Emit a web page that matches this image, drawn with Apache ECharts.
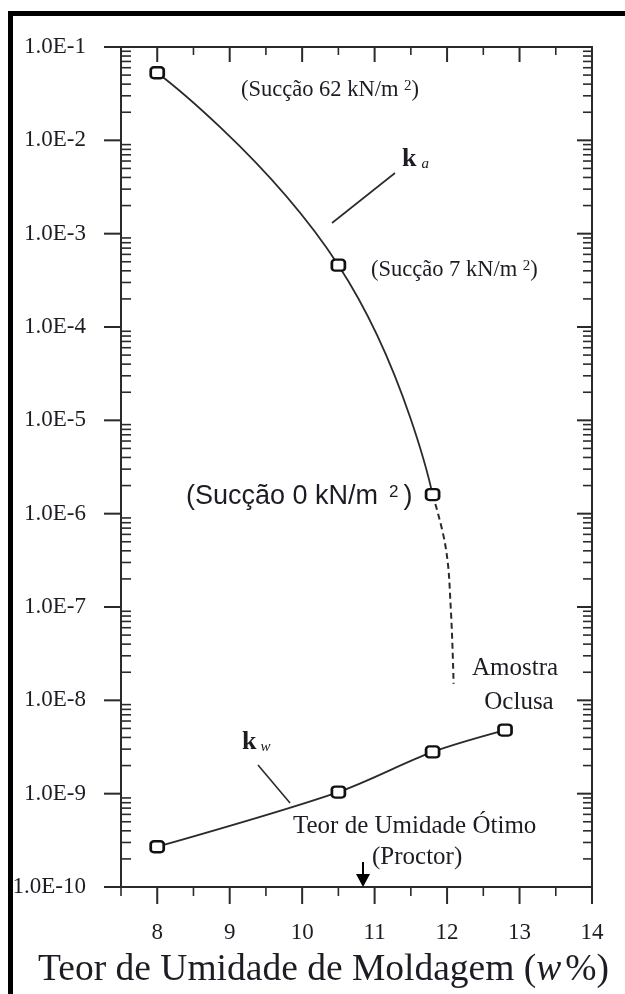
<!DOCTYPE html>
<html><head><meta charset="utf-8">
<script src="https://cdn.jsdelivr.net/npm/echarts@6/dist/echarts.min.js"></script>
<style>html,body{margin:0;padding:0;background:#fff}#c{width:625px;height:994px}</style>
</head><body><div id="c"></div>
<script>
// ---- data ----
const ksMeasured = [[8, 5.3e-2], [10.5, 4.6e-4], [11.8, 1.6e-6]];
const ksExtrapolated = [[11.8, 1.6e-6], [11.98, 4.4e-7], [12.05, 1.0e-7], [12.09, 1.5e-8]];
const kwMeasured = [[8, 2.7e-10], [10.5, 1.04e-9], [11.8, 2.8e-9], [12.8, 4.8e-9]];
const xTickValues = [8, 9, 10, 11, 12, 13, 14];
const xHalfTickValues = [7.5, 8.5, 9.5, 10.5, 11.5, 12.5, 13.5];
const yDecadeExponents = [-10, -9, -8, -7, -6, -5, -4, -3, -2, -1];
const proctorOptimum = 10.84;

const X_MIN = 7.5, X_MAX = 14, Y_MIN = 1e-10, Y_MAX = 1e-1;
const SERIF = '"Liberation Serif", "Times New Roman", serif';
const SANS = '"Liberation Sans", Arial, sans-serif';
const INK = '#1c1c24';
const LINE = '#2a2a2a';

// tick definitions (axis structure)
const tickData = [];
yDecadeExponents.forEach(e => {
  const v = Math.pow(10, e);
  tickData.push([X_MIN, v, 0]);   // left major
  tickData.push([X_MAX, v, 2]);   // right major
  if (e < -1) {
    for (let m = 2; m <= 9; m++) {
      const mv = m * v;
      tickData.push([X_MIN, mv, 1]);
      tickData.push([X_MAX, mv, 3]);
    }
  }
});
xTickValues.forEach(x => { tickData.push([x, Y_MIN, 4]); tickData.push([x, Y_MAX, 6]); });
xHalfTickValues.forEach(x => { tickData.push([x, Y_MIN, 5]); tickData.push([x, Y_MAX, 7]); });

const chart = echarts.init(document.getElementById('c'), null, {renderer: 'canvas'});

const marker = {
  symbol: 'roundRect', symbolSize: [13, 11],
  itemStyle: {color: '#fff', borderColor: '#111', borderWidth: 2.5}
};

chart.setOption({
  animation: false,
  backgroundColor: '#fff',
  grid: {left: 121, right: 33, top: 47, bottom: 107, containLabel: false},
  xAxis: [{
    type: 'value', position: 'bottom', min: X_MIN, max: X_MAX, interval: 0.5,
    axisLine: {show: true, lineStyle: {color: LINE, width: 2}},
    axisTick: {show: false}, splitLine: {show: false},
    axisLabel: {
      margin: 34, fontFamily: SERIF, fontSize: 23, color: INK,
      formatter: v => (Number.isInteger(v) ? String(v) : '')
    }
  }, {
    type: 'value', position: 'top', min: X_MIN, max: X_MAX, interval: 0.5,
    axisLine: {show: true, lineStyle: {color: LINE, width: 2}},
    axisTick: {show: false}, axisLabel: {show: false}, splitLine: {show: false}
  }],
  yAxis: [{
    type: 'log', logBase: 10, min: Y_MIN, max: Y_MAX, splitNumber: 9, position: 'left',
    axisLine: {show: true, lineStyle: {color: LINE, width: 2}},
    axisTick: {show: false}, splitLine: {show: false}, minorTick: {show: false},
    axisLabel: {
      margin: 35, fontFamily: SERIF, fontSize: 23, color: INK,
      formatter: v => '1.0E' + Math.round(Math.log10(v))
    }
  }, {
    type: 'log', logBase: 10, min: Y_MIN, max: Y_MAX, splitNumber: 9, position: 'right',
    axisLine: {show: true, lineStyle: {color: LINE, width: 2}},
    axisTick: {show: false}, axisLabel: {show: false}, splitLine: {show: false}
  }],
  series: [
    {
      type: 'custom', name: 'ticks', clip: false, silent: true, z: 5,
      data: tickData,
      renderItem: (params, api) => {
        const p = api.coord([api.value(0), api.value(1)]);
        const k = api.value(2);
        let s;
        switch (k) {
          case 0: s = {x1: p[0] - 17, y1: p[1], x2: p[0], y2: p[1]}; break;
          case 1: s = {x1: p[0], y1: p[1], x2: p[0] + 10, y2: p[1]}; break;
          case 2: s = {x1: p[0] - 15, y1: p[1], x2: p[0], y2: p[1]}; break;
          case 3: s = {x1: p[0] - 9, y1: p[1], x2: p[0], y2: p[1]}; break;
          case 4: s = {x1: p[0], y1: p[1], x2: p[0], y2: p[1] + 17}; break;
          case 5: s = {x1: p[0], y1: p[1], x2: p[0], y2: p[1] + 9}; break;
          case 6: s = {x1: p[0], y1: p[1], x2: p[0], y2: p[1] + 15}; break;
          default: s = {x1: p[0], y1: p[1], x2: p[0], y2: p[1] + 8};
        }
        const major = (k === 0 || k === 2 || k === 4 || k === 6);
        return {type: 'line', shape: s, style: {stroke: LINE, lineWidth: major ? 2 : 1.6}};
      }
    },
    Object.assign({
      type: 'line', name: 'ks', data: ksMeasured, smooth: 0.5,
      lineStyle: {color: LINE, width: 1.8}, z: 3
    }, marker),
    {
      type: 'line', name: 'ks (extrap.)', data: ksExtrapolated, smooth: 0.4,
      showSymbol: false, symbol: 'none',
      lineStyle: {color: LINE, width: 2, type: [6, 4]}, z: 2
    },
    Object.assign({
      type: 'line', name: 'kw', data: kwMeasured, smooth: 0.3,
      lineStyle: {color: LINE, width: 1.8}, z: 3
    }, marker)
  ]
});

// annotations
const arrowPx = chart.convertToPixel({xAxisIndex: 0, yAxisIndex: 0}, [proctorOptimum, Y_MIN]);
const ax = arrowPx[0], ay = arrowPx[1];

function txt(x, y, text, size, rich, family, align) {
  return {
    type: 'text', x: x, y: y, z: 50,
    style: {
      text: text, fontFamily: family || SERIF, fontSize: size, fill: INK,
      align: align || 'left', verticalAlign: 'middle', rich: rich || {}
    }
  };
}
const supRich = (fam, size, pad) => ({s: {fontFamily: fam, fontSize: size, fill: INK, verticalAlign: 'top', padding: pad || [0, 0, 0, 0]}});

chart.setOption({
  graphic: [
    // outer frame (left and top black bars)
    {type: 'rect', shape: {x: 8, y: 11, width: 5, height: 983}, style: {fill: '#000'}, z: 60},
    {type: 'rect', shape: {x: 8, y: 11, width: 617, height: 5}, style: {fill: '#000'}, z: 60},

    txt(241, 90, '(Sucção 62 kN/m {s|2})', 22.5, supRich(SERIF, 15)),
    txt(371, 270, '(Sucção 7 kN/m {s|2})', 22.5, supRich(SERIF, 15)),
    txt(186, 497, '(Sucção 0 kN/m{s|2}{p|)}', 27, {
      s: {fontFamily: SANS, fontSize: 17, fill: INK, verticalAlign: 'top', padding: [0, 0, 0, 11]},
      p: {fontFamily: SANS, fontSize: 27, fill: INK, padding: [0, 0, 0, 5]}
    }, SANS),

    // k_a label + leader
    {type: 'text', x: 402, y: 159, z: 50, style: {
      text: '{k|k}{a|a}', verticalAlign: 'middle', align: 'left',
      rich: {k: {fontFamily: SERIF, fontSize: 26, fontWeight: 'bold', fill: INK},
             a: {fontFamily: SERIF, fontSize: 15, fontStyle: 'italic', fill: INK, verticalAlign: 'bottom', padding: [0, 0, 0, 5]}}
    }},
    {type: 'line', shape: {x1: 332, y1: 223, x2: 395, y2: 173}, style: {stroke: LINE, lineWidth: 1.6}, z: 50},

    // k_w label + leader
    {type: 'text', x: 242, y: 742, z: 50, style: {
      text: '{k|k}{w|w}', verticalAlign: 'middle', align: 'left',
      rich: {k: {fontFamily: SERIF, fontSize: 26, fontWeight: 'bold', fill: INK},
             w: {fontFamily: SERIF, fontSize: 15, fontStyle: 'italic', fill: INK, verticalAlign: 'bottom', padding: [0, 0, 0, 4]}}
    }},
    {type: 'line', shape: {x1: 258, y1: 765, x2: 290, y2: 803}, style: {stroke: LINE, lineWidth: 1.6}, z: 50},

    txt(515, 668, 'Amostra', 25, null, SERIF, 'center'),
    txt(519, 702, 'Oclusa', 25, null, SERIF, 'center'),
    txt(293, 826, 'Teor de Umidade Ótimo', 25),
    txt(372, 857, '(Proctor)', 25),

    // arrow marking the Proctor optimum
    {type: 'line', shape: {x1: ax, y1: ay - 25, x2: ax, y2: ay - 11}, style: {stroke: '#000', lineWidth: 2}, z: 50},
    {type: 'polygon', shape: {points: [[ax - 7, ay - 13], [ax + 7, ay - 13], [ax, ay]]}, style: {fill: '#000'}, z: 50},

    // x axis title
    {type: 'text', x: 38, y: 970, z: 50, style: {
      text: 'Teor de Umidade de Moldagem ({w|w}%)', fontFamily: SERIF, fontSize: 37.5, fill: INK,
      align: 'left', verticalAlign: 'middle',
      rich: {w: {fontFamily: SERIF, fontSize: 37.5, fontStyle: 'italic', fill: INK, padding: [0, 4, 0, 0]}}
    }}
  ]
});
</script>
</body></html>
